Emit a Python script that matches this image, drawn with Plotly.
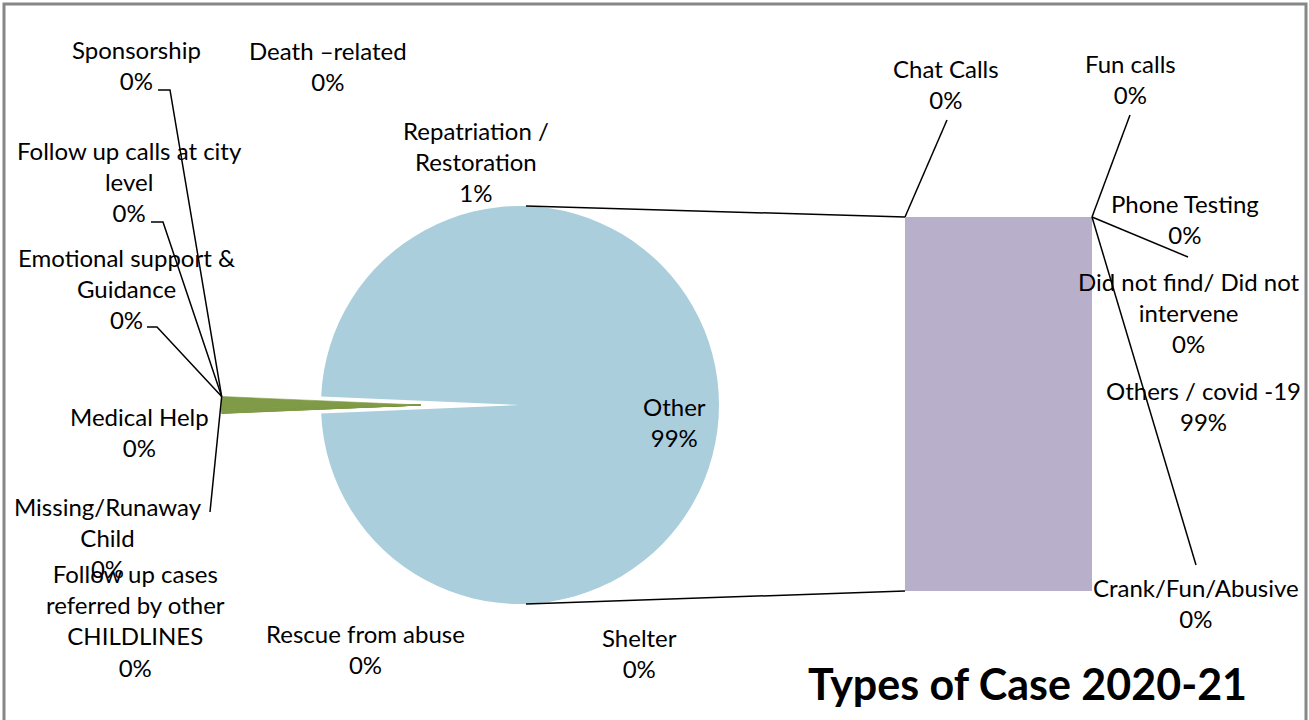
import math
import plotly.graph_objects as go

W, H = 1309, 720

# ---------------- data ----------------
pie_categories = [
    "Shelter", "Rescue from abuse", "Follow up cases referred by other CHILDLINES",
    "Missing/Runaway Child", "Medical Help", "Emotional support & Guidance",
    "Follow up calls at city level", "Sponsorship", "Death –related",
    "Repatriation / Restoration", "Other",
]
pie_values = [0.02, 0.02, 0.03, 0.05, 0.08, 0.06, 0.05, 0.02, 0.03, 1.0, 98.74]

bar_categories = [
    "Crank/Fun/Abusive", "Others / covid -19", "Did not find/ Did not intervene",
    "Phone Testing", "Fun calls", "Chat Calls",
]
bar_values = [0.03, 98.6, 0.05, 0.01, 0.03, 0.02]

title_text = "Types of Case 2020-21"

# wrapped display names for the data labels
wrap = {
    "Repatriation / Restoration": "Repatriation /<br>Restoration",
    "Follow up calls at city level": "Follow up calls at city<br>level",
    "Emotional support & Guidance": "Emotional support &<br>Guidance",
    "Missing/Runaway Child": "Missing/Runaway<br>Child",
    "Follow up cases referred by other CHILDLINES": "Follow up cases<br>referred by other<br>CHILDLINES",
    "Did not find/ Did not intervene": "Did not find/ Did not<br>intervene",
}

# ---------------- layout geometry (pixels) ----------------
BLUE = "#AACEDC"
GREEN = "#7F9B47"
PURPLE = "#B8AFCA"
CLEAR = "rgba(0,0,0,0)"
FONT = "Lato, Carlito, Calibri, sans-serif"

cx, cy, r = 520, 405, 199
PULL = 0.5
box = 2 * r
bar_x0, bar_x1, bar_y0, bar_y1 = 905, 1092, 217, 591


def px(x):
    return x / W


def py(y):
    return 1 - y / H


total = sum(pie_values)
small_total = sum(pie_values[:-1])
small_deg = small_total / total * 360
rotation = 270 - small_deg / 2
n_small = len(pie_values) - 1
shift = PULL * r  # exploded group offset (to the left)


def dom(x_c, y_c):
    return dict(x=[px(x_c - box / 2), px(x_c + box / 2)], y=[py(y_c + box / 2), py(y_c - box / 2)])


fig = go.Figure()

# main pie: "Other" slice, with the gap left by the exploded slices
fig.add_trace(go.Pie(
    labels=pie_categories, values=pie_values, sort=False, direction="clockwise",
    rotation=rotation,
    marker=dict(colors=[CLEAR] * n_small + [BLUE], line=dict(width=0)),
    textinfo="none", hoverinfo="skip", domain=dom(cx, cy), showlegend=False,
))
# exploded group of small slices (moved together)
fig.add_trace(go.Pie(
    labels=pie_categories, values=pie_values, sort=False, direction="clockwise",
    rotation=rotation,
    marker=dict(colors=[GREEN] * n_small + [CLEAR],
                line=dict(color=[GREEN] * n_small + [CLEAR], width=[0.6] * n_small + [0])),
    textinfo="none", hoverinfo="label+percent", domain=dom(cx - shift, cy), showlegend=False,
))

for cat, val in zip(bar_categories, bar_values):
    fig.add_trace(go.Bar(
        x=[0], y=[val], name=cat, width=1,
        marker=dict(color=PURPLE, line=dict(width=0)),
        showlegend=False, hoverinfo="name+y",
    ))

# ---------------- label placement ----------------
def pct(v):
    return f"{int(math.floor(v / total * 100 + 0.5))}%"

label_pos = {
    "Sponsorship": (136, 65),
    "Death –related": (328, 66),
    "Repatriation / Restoration": (476, 161),
    "Follow up calls at city level": (129, 181),
    "Emotional support & Guidance": (126, 288),
    "Medical Help": (139, 432),
    "Missing/Runaway Child": (108, 537),
    "Follow up cases referred by other CHILDLINES": (135, 620),
    "Rescue from abuse": (366, 649),
    "Shelter": (639, 653),
    "Other": (674, 422),
    "Chat Calls": (946, 84),
    "Fun calls": (1130, 79),
    "Phone Testing": (1185, 219),
    "Did not find/ Did not intervene": (1189, 312),
    "Others / covid -19": (1203, 406),
    "Crank/Fun/Abusive": (1196, 603),
}

annotations = []
for cat, val in list(zip(pie_categories, pie_values)) + list(zip(bar_categories, bar_values)):
    x, y = label_pos[cat]
    annotations.append(dict(
        x=px(x), y=py(y), xref="paper", yref="paper",
        text=f"{wrap.get(cat, cat)}<br>{pct(val)}",
        showarrow=False, xanchor="center", yanchor="middle", align="center",
        font=dict(family=FONT, size=24, color="#000000"),
    ))

annotations.append(dict(
    x=px(1027), y=py(683), xref="paper", yref="paper", text=f"<b>{title_text}</b>",
    showarrow=False, xanchor="center", yanchor="middle",
    font=dict(family=FONT, size=43, color="#000000"),
))

# anchor on the exploded wedge: upper outer corner
edge = math.radians(rotation + small_deg)
ax = cx - shift + r * math.sin(edge)
ay = cy - r * math.cos(edge)


def seg(points):
    d = "M " + " L ".join(f"{px(x)},{py(y)}" for x, y in points)
    return dict(type="path", path=d, xref="paper", yref="paper",
                line=dict(color="#000000", width=1.5))


shapes = [
    # border
    dict(type="rect", xref="paper", yref="paper", x0=px(4), y0=py(4), x1=px(1306), y1=py(730),
         line=dict(color="#878787", width=3), fillcolor="rgba(0,0,0,0)", layer="below"),
    # series lines pie -> bar
    seg([(cx + 6, cy - r), (bar_x0, bar_y0)]),
    seg([(cx + 6, cy + r), (bar_x0, bar_y1)]),
    # left leader lines
    seg([(158, 90), (170, 90), (ax, ay)]),
    seg([(151, 222), (163, 222), (ax, ay)]),
    seg([(147, 327), (157, 327), (ax, ay)]),
    seg([(ax, ay), (210, 512)]),
    # right leader lines
    seg([(947, 120), (bar_x0, bar_y0)]),
    seg([(1130, 115), (bar_x1, bar_y0)]),
    seg([(bar_x1, bar_y0), (1188, 257)]),
    seg([(bar_x1, bar_y0), (1196, 565)]),
]

fig.update_layout(
    width=W, height=H,
    margin=dict(l=0, r=0, t=0, b=0),
    paper_bgcolor="#FFFFFF", plot_bgcolor="rgba(0,0,0,0)",
    barmode="stack", bargap=0,
    xaxis=dict(domain=[px(bar_x0), px(bar_x1)], range=[-0.5, 0.5], visible=False, fixedrange=True),
    yaxis=dict(domain=[py(bar_y1), py(bar_y0)], range=[0, sum(bar_values)], visible=False, fixedrange=True),
    annotations=annotations,
    shapes=shapes,
    showlegend=False,
)

fig.write_html(
    "out.html",
    config={"displayModeBar": False},
    post_script="document.body.style.margin='0';document.body.style.overflow='hidden';",
)
